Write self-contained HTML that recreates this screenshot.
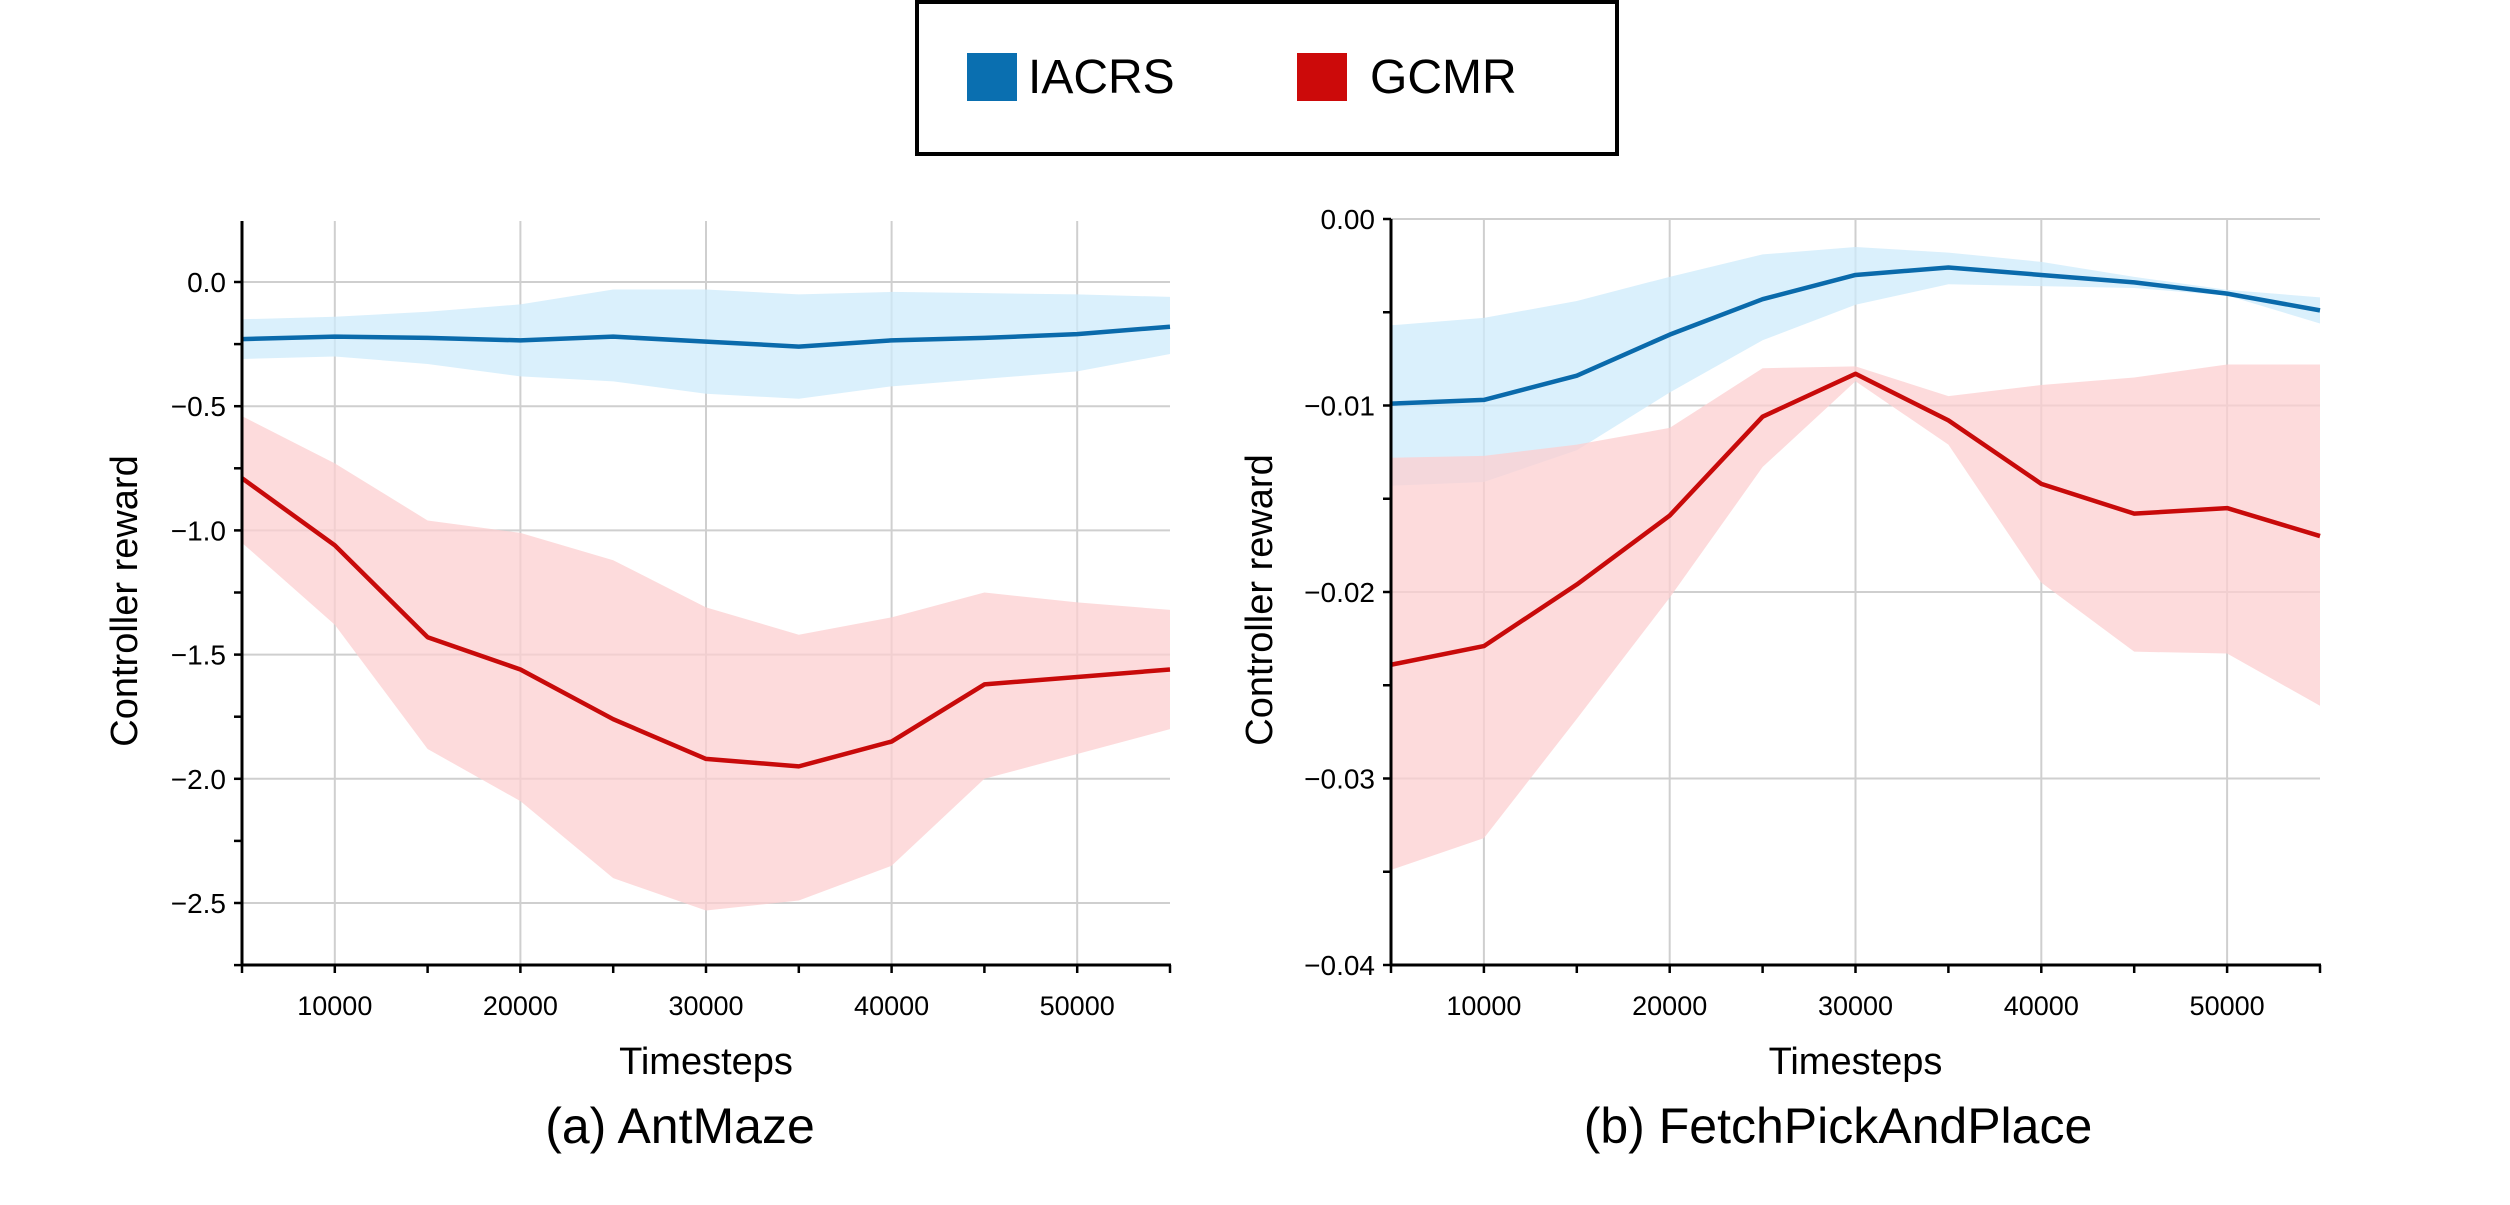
<!DOCTYPE html>
<html><head><meta charset="utf-8"><style>
body{margin:0;background:#fff;}
svg{display:block;font-family:"Liberation Sans",Arial,sans-serif;}
</style></head><body>
<svg id="fig" width="2510" height="1205" viewBox="0 0 2510 1205">
<g>
<rect x="917" y="2" width="700" height="152" fill="#fff" stroke="#000" stroke-width="4"/>
<rect x="967" y="53" width="50" height="48" fill="#0a6fb0"/>
<text x="1028" y="93" font-size="48">IACRS</text>
<rect x="1297" y="53" width="50" height="48" fill="#cc0a0a"/>
<text x="1370" y="93" font-size="48">GCMR</text>
</g>
</svg>
<script>
const xs=[5000,10000,15000,20000,25000,30000,35000,40000,45000,50000,55000];
const xTicks=[10000,20000,30000,40000,50000];
const aIacrsMean=[-0.23,-0.22,-0.225,-0.235,-0.22,-0.24,-0.26,-0.235,-0.225,-0.21,-0.18];
const aIacrsHi=[-0.15,-0.14,-0.12,-0.09,-0.03,-0.03,-0.05,-0.04,-0.045,-0.05,-0.06];
const aIacrsLo=[-0.31,-0.30,-0.33,-0.38,-0.40,-0.45,-0.47,-0.42,-0.39,-0.36,-0.29];
const aGcmrMean=[-0.79,-1.06,-1.43,-1.56,-1.76,-1.92,-1.95,-1.85,-1.62,-1.59,-1.56];
const aGcmrHi=[-0.54,-0.73,-0.96,-1.01,-1.12,-1.31,-1.42,-1.35,-1.25,-1.29,-1.32];
const aGcmrLo=[-1.05,-1.38,-1.88,-2.09,-2.40,-2.53,-2.49,-2.35,-2.00,-1.90,-1.80];
const aYTicks=[0,-0.5,-1,-1.5,-2,-2.5];
const aYTickLabels=["0.0","\u22120.5","\u22121.0","\u22121.5","\u22122.0","\u22122.5"];
const bIacrsMean=[-0.0099,-0.0097,-0.0084,-0.0062,-0.0043,-0.0030,-0.0026,-0.0030,-0.0034,-0.0040,-0.0049];
const bIacrsHi=[-0.0057,-0.0053,-0.0044,-0.0031,-0.0019,-0.0015,-0.0018,-0.0023,-0.0031,-0.0038,-0.0042];
const bIacrsLo=[-0.0143,-0.0141,-0.0124,-0.0093,-0.0065,-0.0046,-0.0035,-0.0036,-0.0037,-0.0041,-0.0056];
const bGcmrMean=[-0.0239,-0.0229,-0.0196,-0.0159,-0.0106,-0.0083,-0.0108,-0.0142,-0.0158,-0.0155,-0.0170];
const bGcmrHi=[-0.0128,-0.0127,-0.0121,-0.0112,-0.0080,-0.0079,-0.0095,-0.0089,-0.0085,-0.0078,-0.0078];
const bGcmrLo=[-0.0349,-0.0332,-0.0268,-0.0203,-0.0133,-0.0087,-0.0121,-0.0195,-0.0232,-0.0233,-0.0261];
const bYTicks=[0,-0.01,-0.02,-0.03,-0.04];
const bYTickLabels=["0.00","\u22120.01","\u22120.02","\u22120.03","\u22120.04"];

const NS="http://www.w3.org/2000/svg";
const svg=document.getElementById('fig');
function mk(tag,attrs,parent){const e=document.createElementNS(NS,tag);for(const k in attrs)e.setAttribute(k,attrs[k]);parent.appendChild(e);return e;}

function panel(p){
  const g=mk('g',{},svg);
  
  
  const X=v=>p.x0+(v-5000)/50000*(p.x1-p.x0);
  const Y=v=>p.y0+(v-p.v0)/(p.v1-p.v0)*(p.y1-p.y0);
  xTicks.forEach(t=>{const l=mk('line',{x1:X(t),x2:X(t),y1:p.yTop,y2:p.yBot,stroke:'#cfcfcf','stroke-width':2},g);
    });
  p.yt.forEach(t=>{const l=mk('line',{x1:p.x0,x2:p.x1,y1:Y(t),y2:Y(t),stroke:'#cfcfcf','stroke-width':2},g);
    });
  function band(hi,lo,col,nm){
    let d='M'+xs.map((x,i)=>X(x)+','+Y(hi[i])).join('L');
    d+='L'+xs.map((x,i)=>X(x)+','+Y(lo[i])).reverse().join('L')+'Z';
    const e=mk('path',{d:d,fill:col,'fill-opacity':0.75},g);
    
  }
  function line(m,col,nm){
    const e=mk('polyline',{points:xs.map((x,i)=>X(x)+','+Y(m[i])).join(' '),fill:'none',stroke:col,'stroke-width':4.5,'stroke-linejoin':'round'},g);
    
  }
  band(p.iHi,p.iLo,'#cdebfb','iacrs-band');
  band(p.gHi,p.gLo,'#fccfd0','gcmr-band');
  line(p.iM,'#0a6aab','iacrs-line');
  line(p.gM,'#c80a0a','gcmr-line');
  const ya=mk('line',{x1:p.x0,x2:p.x0,y1:p.yTop,y2:p.yBot+1,stroke:'#000','stroke-width':3},g);
  
  const xa=mk('line',{x1:p.x0-1,x2:p.x1+1,y1:p.yBot,y2:p.yBot,stroke:'#000','stroke-width':3},g);
  
  for(let v=5000;v<=55000;v+=5000){mk('line',{x1:X(v),x2:X(v),y1:p.yBot,y2:p.yBot+8,stroke:'#000','stroke-width':2.5},g);}
  for(let v=p.minorStart;v>=p.minorEnd-1e-9;v-=p.minorStep){const y=Y(v);if(y<p.yTop-1||y>p.yBot+1)continue;mk('line',{x1:p.x0-8,x2:p.x0,y1:y,y2:y,stroke:'#000','stroke-width':2.5},g);}
  xTicks.forEach(t=>{const e=mk('text',{x:X(t),y:p.yBot+50,'font-size':27,'text-anchor':'middle'},g);e.textContent=t;
    });
  p.yt.forEach((t,i)=>{const e=mk('text',{x:p.x0-16,y:Y(t)+10,'font-size':28,'text-anchor':'end'},g);e.textContent=p.ytl[i];
    });
  const xt=mk('text',{x:(p.x0+p.x1)/2,y:1074,'font-size':38,'text-anchor':'middle'},g);xt.textContent='Timesteps';
  
  const yt=mk('text',{x:0,y:0,'font-size':38,'text-anchor':'middle',transform:`translate(${p.ylx},${(p.yTop+p.yBot)/2+8}) rotate(-90)`},g);yt.textContent='Controller reward';
  
  const cap=mk('text',{x:p.capX,y:1143,'font-size':50,'text-anchor':'middle'},g);cap.textContent=p.cap;
  
}
panel({name:'antmaze-panel',x0:242,x1:1170,yTop:221,yBot:965,y0:282,v0:0,y1:903,v1:-2.5,yt:aYTicks,ytl:aYTickLabels,
  iM:aIacrsMean,iHi:aIacrsHi,iLo:aIacrsLo,gM:aGcmrMean,gHi:aGcmrHi,gLo:aGcmrLo,minorStart:0.25,minorEnd:-2.75,minorStep:0.25,
  ylx:137,capX:680,cap:'(a) AntMaze'});
panel({name:'fetchpickandplace-panel',x0:1391,x1:2320,yTop:219,yBot:965,y0:219,v0:0,y1:965,v1:-0.04,yt:bYTicks,ytl:bYTickLabels,
  iM:bIacrsMean,iHi:bIacrsHi,iLo:bIacrsLo,gM:bGcmrMean,gHi:bGcmrHi,gLo:bGcmrLo,minorStart:0,minorEnd:-0.04,minorStep:0.005,
  ylx:1272,capX:1838,cap:'(b) FetchPickAndPlace'});
</script>
</body></html>
